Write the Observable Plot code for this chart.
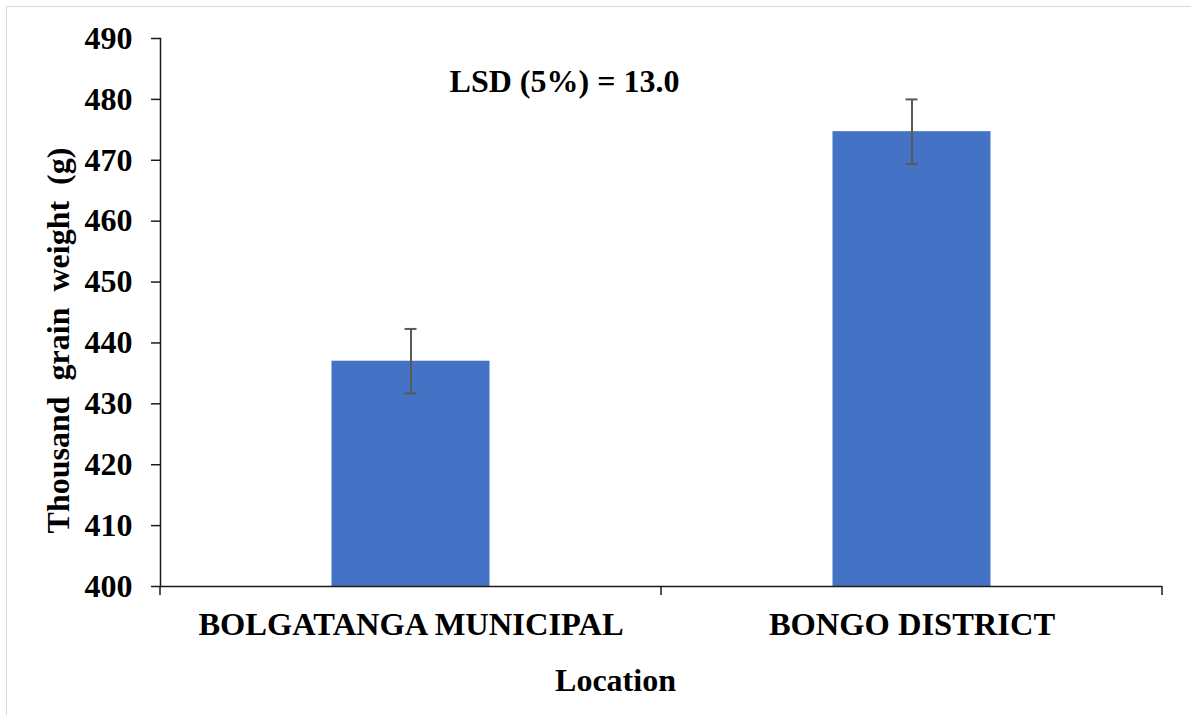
<!DOCTYPE html>
<html>
<head>
<meta charset="utf-8">
<script src="https://cdn.jsdelivr.net/npm/d3@7"></script>
<script src="https://cdn.jsdelivr.net/npm/@observablehq/plot@0.6"></script>
<style>
  html, body { margin: 0; padding: 0; background: #fff; overflow: hidden; }
  #wrap { position: relative; width: 1191px; height: 715px; overflow: hidden; }
  #border { position: absolute; left: 6px; top: 6px; width: 1300px; height: 800px; border-left: 1px solid #d9d9d9; border-top: 1px solid #d9d9d9; }
  #chart { position: absolute; left: 0; top: 0; }
  #chart svg text { font-family: 'Liberation Serif', 'Times New Roman', serif; }
</style>
</head>
<body>
<div id="wrap"><div id="border"></div><div id="chart"></div></div>
<script>
// ---- data ----
const locations = ["BOLGATANGA MUNICIPAL", "BONGO DISTRICT"];
const means = [437.0, 474.7];
const stdErrors = [5.3, 5.3];
const yTicks = [400, 410, 420, 430, 440, 450, 460, 470, 480, 490];
const yMin = 400, yMax = 490;
const yTitle = "Thousand  grain  weight  (g)";
const xTitle = "Location";
const note = "LSD (5%) = 13.0";

const serif = "'Liberation Serif', 'Times New Roman', serif";

const data = locations.map((loc, i) => ({
  location: loc,
  mean: means[i],
  lo: means[i] - stdErrors[i],
  hi: means[i] + stdErrors[i]
}));

// ticks at the category boundaries of the band scale
function boundaryTicks(index, scales, values, dimensions) {
  const x = scales.x;
  const dom = x.domain();
  const bw = x.bandwidth ? x.bandwidth() : 0;
  const edges = dom.map(d => x(d)).concat([x(dom[dom.length - 1]) + bw]);
  const y0 = dimensions.height - dimensions.marginBottom;
  const g = d3.create("svg:g");
  g.selectAll("line").data(edges).join("line")
    .attr("x1", d => d).attr("x2", d => d)
    .attr("y1", y0).attr("y2", y0 + 9)
    .attr("stroke", "#1a1a1a").attr("stroke-width", 1.5);
  return g.node();
}

const textOpts = { fontFamily: serif, fontWeight: "bold", fill: "#000", lineAnchor: "middle" };

const chart = Plot.plot({
  width: 1191,
  height: 715,
  marginLeft: 160,
  marginRight: 29,
  marginTop: 38,
  marginBottom: 129,
  style: {
    fontFamily: serif,
    fontSize: "32px",
    fontWeight: "bold",
    color: "#000",
    background: "transparent",
    whiteSpace: "pre",
    overflow: "visible"
  },
  x: { domain: locations, padding: 0, label: null },
  y: { domain: [yMin, yMax], label: null },
  marks: [
    Plot.barY(data, { x: "location", y1: () => yMin, y2: "mean", fill: "#4472C4", insetLeft: 171.5, insetRight: 171.5 }),
    Plot.ruleX(data, { x: "location", y1: "lo", y2: "hi", stroke: "#595959", strokeWidth: 2 }),
    Plot.tickY(data, { x: "location", y: "lo", stroke: "#595959", strokeWidth: 2, insetLeft: 244.5, insetRight: 244.5 }),
    Plot.tickY(data, { x: "location", y: "hi", stroke: "#595959", strokeWidth: 2, insetLeft: 244.5, insetRight: 244.5 }),
    Plot.frame({ anchor: "left", stroke: "#1a1a1a", strokeWidth: 1.5 }),
    Plot.ruleY([yMin], { stroke: "#1a1a1a", strokeWidth: 1.5 }),
    Plot.axisY({ ticks: yTicks, tickSize: 9, tickPadding: 19, label: null, stroke: "#1a1a1a", strokeWidth: 1.5, fontSize: 32, fontWeight: "bold", fontFamily: serif, fill: "#000" }),
    Plot.axisX({ tickSize: 0, tickPadding: 25, label: null, fontSize: 32.5, fontWeight: "bold", fontFamily: serif, fill: "#000" }),
    boundaryTicks,
    Plot.text([note], { ...textOpts, text: d => d, frameAnchor: "top", dx: -97, dy: 43, fontSize: 32 }),
    Plot.text([xTitle], { ...textOpts, text: d => d, frameAnchor: "bottom", dx: -46, dy: 94, fontSize: 32 }),
    Plot.text([yTitle], { ...textOpts, text: d => d, frameAnchor: "left", textAnchor: "middle", rotate: -90, dx: -102, dy: 28, fontSize: 32 })
  ]
});
document.getElementById("chart").appendChild(chart);
</script>
</body>
</html>
